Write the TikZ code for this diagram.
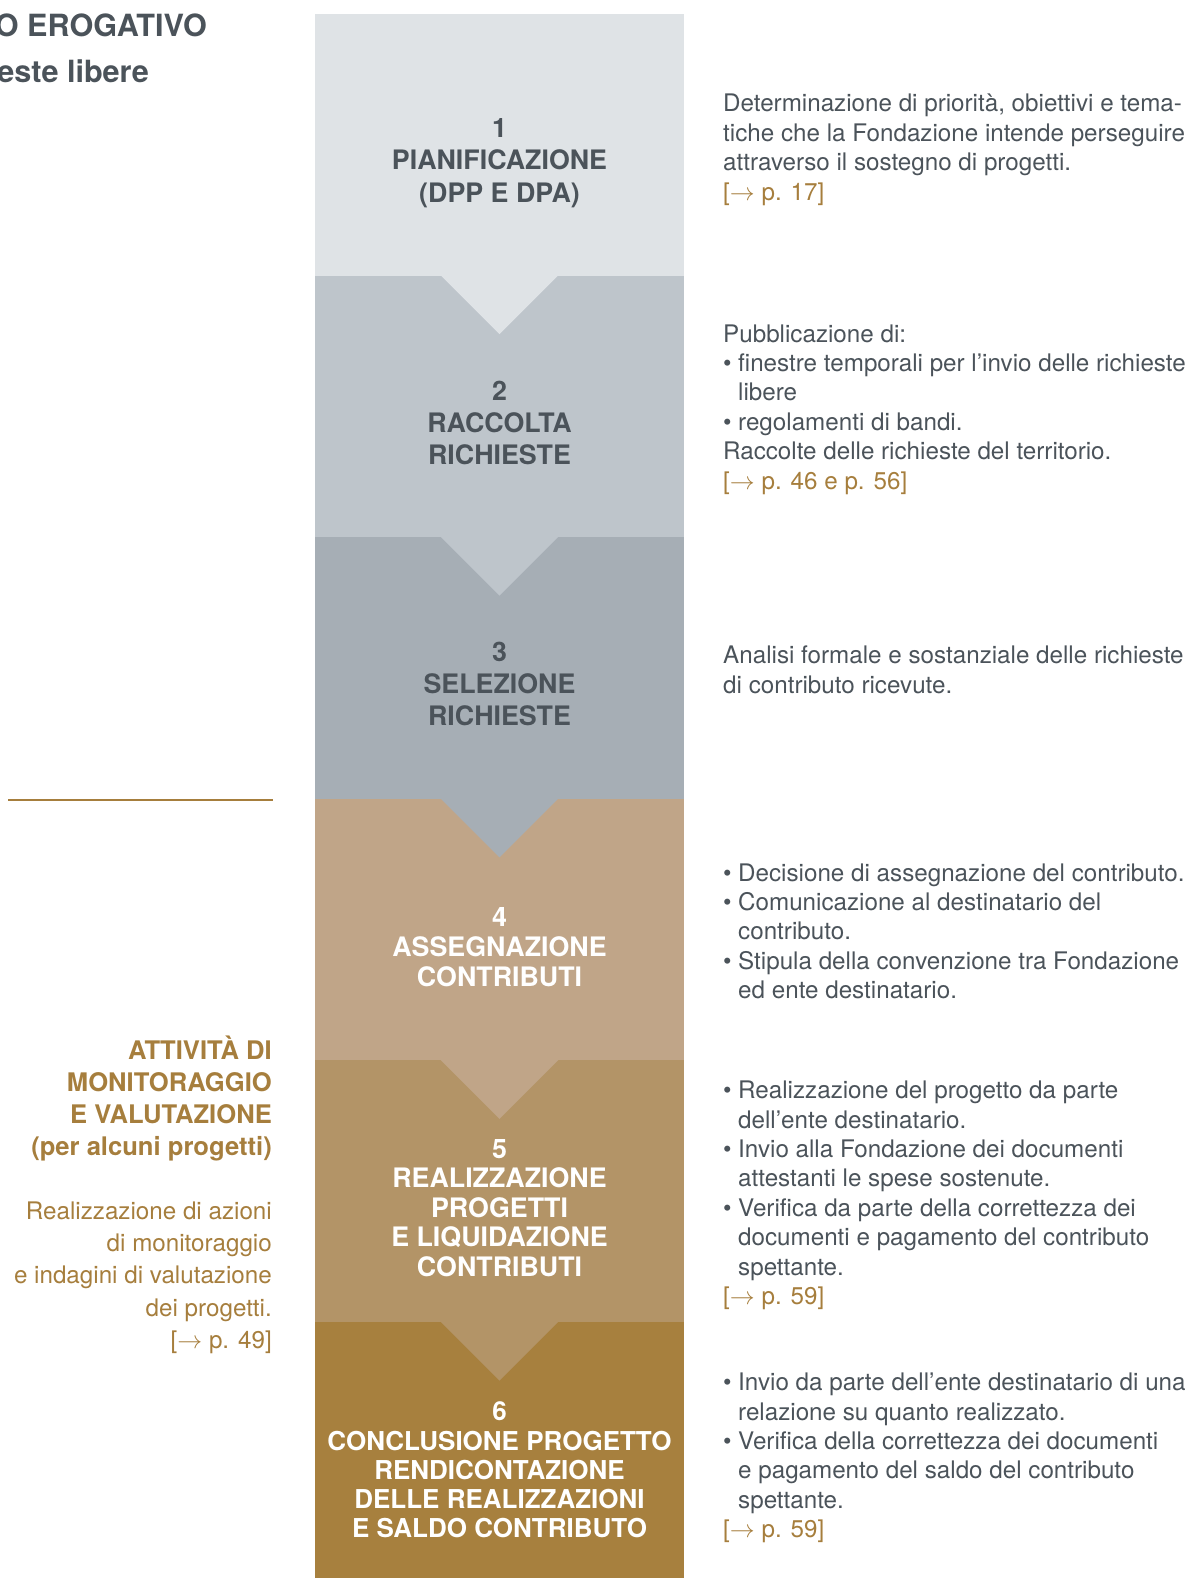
\documentclass[tikz,border=0pt]{standalone}
\usepackage{fontspec}
\setmainfont{TeX Gyre Heros}
\definecolor{bandA}{HTML}{DFE3E6}
\definecolor{bandB}{HTML}{BEC5CB}
\definecolor{bandC}{HTML}{A6AEB5}
\definecolor{bandD}{HTML}{C0A588}
\definecolor{bandE}{HTML}{B39467}
\definecolor{bandF}{HTML}{A7803E}
\definecolor{txtgray}{HTML}{4B535A}
\definecolor{gold}{HTML}{A67E3D}
\newcommand\Bul{\makebox[15pt][l]{•}}
\newcommand\Ind{\hspace*{15pt}}
\newcommand\Pref[1]{{\color{gold}[$\rightarrow$ #1]}}
\begin{document}
\begin{tikzpicture}[x=1pt,y=-1pt,
  steptitle/.style={align=center, inner sep=0pt, font={\fontsize{26.8}{32.2}\selectfont\bfseries}},
  desc/.style={align=left, anchor=base west, inner sep=0pt, text=txtgray, font={\fontsize{24.2}{29.4}\selectfont}},
  goldhead/.style={align=right, anchor=base east, inner sep=0pt, text=gold, font={\fontsize{25.6}{32.2}\selectfont\bfseries}},
  goldtext/.style={align=right, anchor=base east, inner sep=0pt, text=gold, font={\fontsize{24.2}{32.2}\selectfont}},
  headline/.style={anchor=base east, inner sep=0pt, text=txtgray, font={\fontsize{30.6}{36}\selectfont\bfseries}}
]
\useasboundingbox (0,0) rectangle (1191,1578);
% bands
\fill[bandA] (315,14) rectangle (684,275.6);
\fill[bandB] (315,275.6) rectangle (684,537.2);
\fill[bandC] (315,537.2) rectangle (684,798.8);
\fill[bandD] (315,798.8) rectangle (684,1060.4);
\fill[bandE] (315,1060.4) rectangle (684,1322);
\fill[bandF] (315,1322) rectangle (684,1578);
% chevrons
\fill[bandA] (440.5,275.1) -- (499.5,334.1) -- (558.5,275.1) -- cycle;
\fill[bandB] (440.5,536.7) -- (499.5,595.7) -- (558.5,536.7) -- cycle;
\fill[bandC] (440.5,798.3) -- (499.5,857.3) -- (558.5,798.3) -- cycle;
\fill[bandD] (440.5,1059.9) -- (499.5,1118.9) -- (558.5,1059.9) -- cycle;
\fill[bandE] (440.5,1321.5) -- (499.5,1380.5) -- (558.5,1321.5) -- cycle;
% step titles
\node[steptitle, text=txtgray] (t1) at (499.5,163) {1\\PIANIFICAZIONE\\(DPP E DPA)};
\node[steptitle, text=txtgray] (t2) at (499.5,423) {2\\RACCOLTA\\RICHIESTE};
\node[steptitle, text=txtgray] (t3) at (499.5,684) {3\\SELEZIONE\\RICHIESTE};
\node[steptitle, text=white, font={\fontsize{26.8}{30.2}\selectfont\bfseries}] (t4) at (499.5,947) {4\\ASSEGNAZIONE\\CONTRIBUTI};
\node[steptitle, text=white, font={\fontsize{26.8}{29.4}\selectfont\bfseries}] (t5) at (499.5,1208) {5\\REALIZZAZIONE\\PROGETTI\\E LIQUIDAZIONE\\CONTRIBUTI};
\node[steptitle, text=white, font={\fontsize{26}{29.2}\selectfont\bfseries}] (t6) at (499.5,1470) {6\\CONCLUSIONE PROGETTO\\RENDICONTAZIONE\\DELLE REALIZZAZIONI\\E SALDO CONTRIBUTO};
% descriptions (anchored at the baseline of their last line)
\node[desc] (d1) at (723,200.2) {Determinazione di priorità, obiettivi e tema-\\tiche che la Fondazione intende perseguire\\attraverso il sostegno di progetti.\\\Pref{p. 17}};
\node[desc] (d2) at (723,489) {Pubblicazione di:\\\Bul finestre temporali per l’invio delle richieste\\\Ind libere\\\Bul regolamenti di bandi.\\Raccolte delle richieste del territorio.\\\Pref{p. 46 e p. 56}};
\node[desc] (d3) at (723,693) {Analisi formale e sostanziale delle richieste\\di contributo ricevute.};
\node[desc] (d4) at (723,998.6) {\Bul Decisione di assegnazione del contributo.\\\Bul Comunicazione al destinatario del\\\Ind contributo.\\\Bul Stipula della convenzione tra Fondazione\\\Ind ed ente destinatario.};
\node[desc] (d5) at (723,1304.4) {\Bul Realizzazione del progetto da parte\\\Ind dell’ente destinatario.\\\Bul Invio alla Fondazione dei documenti\\\Ind attestanti le spese sostenute.\\\Bul Verifica da parte della correttezza dei\\\Ind documenti e pagamento del contributo\\\Ind spettante.\\\Pref{p. 59}};
\node[desc] (d6) at (723,1537.7) {\Bul Invio da parte dell’ente destinatario di una\\\Ind relazione su quanto realizzato.\\\Bul Verifica della correttezza dei documenti\\\Ind e pagamento del saldo del contributo\\\Ind spettante.\\\Pref{p. 59}};
% headline (cut by the page edge, as in the reference)
\node[headline] (h1) at (207,37) {O EROGATIVO};
\node[headline] (h2) at (149,83) {este libere};
% divider line
\coordinate (l1) at (8,800);
\coordinate (l2) at (273,800);
\draw[gold, line width=2.5pt] (l1) -- (l2);
% monitoring
\node[goldhead] (m1) at (272,1155.6) {ATTIVITÀ DI\\MONITORAGGIO\\E VALUTAZIONE\\(per alcuni progetti)};
\node[goldtext] (m2) at (272,1348.3) {Realizzazione di azioni\\di monitoraggio\\e indagini di valutazione\\dei progetti.\\{[$\rightarrow$ p. 49]}};
\end{tikzpicture}
\end{document}
